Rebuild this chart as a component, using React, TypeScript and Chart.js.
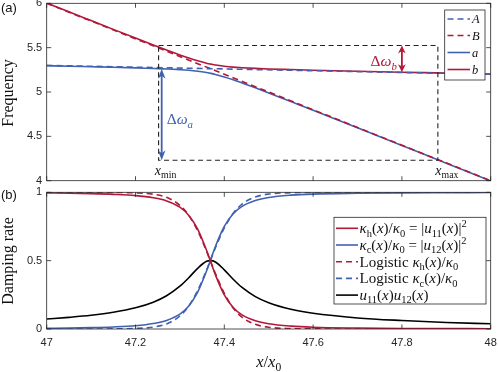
import React, { useEffect, useRef } from 'react';
import { Chart, registerables } from 'chart.js';
Chart.register(...registerables);

// ---------- data ----------
const xGrid = [47, 47.05, 47.1, 47.15, 47.2, 47.24, 47.27, 47.3, 47.32, 47.34, 47.36, 47.37, 47.38, 47.4, 47.42, 47.44, 47.47, 47.5, 47.55, 47.6, 47.7, 47.8, 47.9, 48];
const freqA_x = [47, 48];
const freqA = [5.3, 5.2];
const freqB = [6.0, 4.0];
const freqLowA = [5.296, 5.291, 5.285, 5.279, 5.272, 5.265, 5.26, 5.252, 5.245, 5.234, 5.219, 5.21, 5.198, 5.17, 5.138, 5.102, 5.047, 4.99, 4.892, 4.794, 4.596, 4.397, 4.197, 3.998];
const freqHighB = [6.004, 5.904, 5.805, 5.706, 5.608, 5.531, 5.474, 5.418, 5.383, 5.352, 5.325, 5.314, 5.304, 5.29, 5.28, 5.274, 5.266, 5.26, 5.253, 5.246, 5.234, 5.223, 5.213, 5.202];
const kappaH = [0.995, 0.993, 0.99, 0.985, 0.976, 0.96, 0.937, 0.891, 0.831, 0.731, 0.576, 0.486, 0.396, 0.25, 0.157, 0.103, 0.06, 0.038, 0.021, 0.013, 0.007, 0.004, 0.003, 0.002];
const kappaC = [0.005, 0.007, 0.01, 0.015, 0.024, 0.04, 0.063, 0.109, 0.169, 0.269, 0.424, 0.514, 0.604, 0.75, 0.843, 0.897, 0.94, 0.962, 0.979, 0.987, 0.993, 0.996, 0.997, 0.998];
const logisticH = [1.0, 1.0, 1.0, 0.999, 0.996, 0.986, 0.963, 0.905, 0.832, 0.719, 0.569, 0.487, 0.406, 0.261, 0.154, 0.086, 0.034, 0.013, 0.003, 0.001, 0.0, 0.0, 0.0, 0.0];
const logisticC = [0.0, 0.0, 0.0, 0.001, 0.004, 0.014, 0.037, 0.095, 0.168, 0.281, 0.431, 0.513, 0.594, 0.739, 0.846, 0.914, 0.966, 0.987, 0.997, 0.999, 1.0, 1.0, 1.0, 1.0];
const u11u12 = [0.073, 0.085, 0.1, 0.122, 0.155, 0.196, 0.243, 0.313, 0.375, 0.444, 0.495, 0.5, 0.49, 0.433, 0.364, 0.304, 0.237, 0.192, 0.144, 0.115, 0.081, 0.062, 0.048, 0.038];

const xTicks = [47, 47.2, 47.4, 47.6, 47.8, 48];
const yTicksTop = [4, 4.5, 5, 5.5, 6];
const yTicksBottom = [0, 0.5, 1];

const boxX = [47.252, 47.881];
const boxY = [4.23, 5.525];
const arrowA = { x: 47.259, top: 5.262, bottom: 4.23 };
const arrowB = { x: 47.8, top: 5.525, bottom: 5.224 };

// ---------- styles ----------
const RED = 'rgb(178,24,58)';
const BLUE = 'rgb(64,96,176)';
const DARK = '#262626';
const SERIF = '"Liberation Serif", "Times New Roman", serif';
const SANS = '"Liberation Sans", Arial, sans-serif';
const DASH = [6, 4];

type Seg = { t: string; i?: boolean; s?: 'sub' | 'sup' };

function segFont(seg: Seg, size: number) {
  const sz = seg.s ? size * 0.7 : size;
  return `${seg.i ? 'italic ' : ''}${sz}px ${SERIF}`;
}
function richWidth(ctx: CanvasRenderingContext2D, segs: Seg[], size: number) {
  let w = 0;
  for (const s of segs) {
    ctx.font = segFont(s, size);
    w += ctx.measureText(s.t).width;
  }
  return w;
}
function drawRich(ctx: CanvasRenderingContext2D, x: number, yMid: number, segs: Seg[], size: number, color: string, align: 'left' | 'center' | 'right' = 'left') {
  const w = richWidth(ctx, segs, size);
  let cx = align === 'left' ? x : align === 'center' ? x - w / 2 : x - w;
  const base = yMid + size * 0.33;
  ctx.save();
  ctx.fillStyle = color;
  ctx.textBaseline = 'alphabetic';
  ctx.textAlign = 'left';
  for (const s of segs) {
    ctx.font = segFont(s, size);
    const dy = s.s === 'sub' ? size * 0.22 : s.s === 'sup' ? -size * 0.4 : 0;
    ctx.fillText(s.t, cx, base + dy);
    cx += ctx.measureText(s.t).width;
  }
  ctx.restore();
}

function drawFrame(chart: any) {
  const ctx = chart.ctx as CanvasRenderingContext2D;
  const ca = chart.chartArea;
  const xs = chart.scales.x;
  const ys = chart.scales.y;
  const tl = 4.5;
  ctx.save();
  ctx.strokeStyle = DARK;
  ctx.lineWidth = 0.8;
  ctx.setLineDash([]);
  ctx.strokeRect(ca.left, ca.top, ca.right - ca.left, ca.bottom - ca.top);
  ctx.beginPath();
  for (const t of xs.ticks) {
    const px = xs.getPixelForValue(t.value);
    ctx.moveTo(px, ca.bottom); ctx.lineTo(px, ca.bottom - tl);
    ctx.moveTo(px, ca.top); ctx.lineTo(px, ca.top + tl);
  }
  for (const t of ys.ticks) {
    const py = ys.getPixelForValue(t.value);
    ctx.moveTo(ca.left, py); ctx.lineTo(ca.left + tl, py);
    ctx.moveTo(ca.right, py); ctx.lineTo(ca.right - tl, py);
  }
  ctx.stroke();
  ctx.restore();
}

function drawArrow(ctx: CanvasRenderingContext2D, x: number, yTop: number, yBot: number, color: string, head: number, hw: number) {
  ctx.save();
  ctx.strokeStyle = color;
  ctx.fillStyle = color;
  ctx.lineWidth = 1.8;
  ctx.setLineDash([]);
  ctx.beginPath();
  ctx.moveTo(x, yTop + head * 0.6);
  ctx.lineTo(x, yBot - head * 0.6);
  ctx.stroke();
  ctx.beginPath();
  ctx.moveTo(x, yTop);
  ctx.lineTo(x - hw, yTop + head);
  ctx.lineTo(x, yTop + head * 0.7);
  ctx.lineTo(x + hw, yTop + head);
  ctx.closePath();
  ctx.fill();
  ctx.beginPath();
  ctx.moveTo(x, yBot);
  ctx.lineTo(x - hw, yBot - head);
  ctx.lineTo(x, yBot - head * 0.7);
  ctx.lineTo(x + hw, yBot - head);
  ctx.closePath();
  ctx.fill();
  ctx.restore();
}

function drawLegend(chart: any, box: { l: number; t: number; r: number; b: number }, rows: number[], lineX: [number, number], textX: number, labels: Seg[][], size: number) {
  const ctx = chart.ctx as CanvasRenderingContext2D;
  ctx.save();
  ctx.fillStyle = '#fff';
  ctx.fillRect(box.l, box.t, box.r - box.l, box.b - box.t);
  ctx.strokeStyle = DARK;
  ctx.lineWidth = 0.8;
  ctx.setLineDash([]);
  ctx.strokeRect(box.l, box.t, box.r - box.l, box.b - box.t);
  chart.data.datasets.forEach((ds: any, i: number) => {
    const y = rows[i];
    ctx.strokeStyle = ds.borderColor;
    ctx.lineWidth = ds.borderWidth;
    ctx.setLineDash(ds.borderDash || []);
    ctx.beginPath();
    ctx.moveTo(lineX[0], y);
    ctx.lineTo(lineX[1], y);
    ctx.stroke();
    drawRich(ctx, textX, y, labels[i], size, '#111', 'left');
  });
  ctx.restore();
}

const topPlugin = {
  id: 'topDecor',
  afterDraw(chart: any) {
    const ctx = chart.ctx as CanvasRenderingContext2D;
    const xs = chart.scales.x;
    const ys = chart.scales.y;
    drawFrame(chart);
    const x0 = xs.getPixelForValue(boxX[0]);
    const x1 = xs.getPixelForValue(boxX[1]);
    const y0 = ys.getPixelForValue(boxY[0]);
    const y1 = ys.getPixelForValue(boxY[1]);
    ctx.save();
    ctx.strokeStyle = '#222';
    ctx.lineWidth = 1.1;
    ctx.setLineDash([5, 3.5]);
    ctx.strokeRect(x0, y1, x1 - x0, y0 - y1);
    ctx.restore();
    const ax = xs.getPixelForValue(arrowA.x);
    drawArrow(ctx, ax, ys.getPixelForValue(arrowA.top), ys.getPixelForValue(arrowA.bottom), BLUE, 10, 3.8);
    const bx = xs.getPixelForValue(arrowB.x);
    drawArrow(ctx, bx, ys.getPixelForValue(arrowB.top), ys.getPixelForValue(arrowB.bottom), RED, 8, 3.8);
    drawRich(ctx, ax + 5, 119, [{ t: 'Δ' }, { t: 'ω', i: true }, { t: 'a', i: true, s: 'sub' }], 15.5, BLUE, 'left');
    drawRich(ctx, bx - 5, 61, [{ t: 'Δ' }, { t: 'ω', i: true }, { t: 'b', i: true, s: 'sub' }], 15.5, RED, 'right');
    drawRich(ctx, x0 + 7, 170, [{ t: 'x', i: true }, { t: 'min', s: 'sub' }], 14, '#111', 'center');
    drawRich(ctx, x1 + 9, 170, [{ t: 'x', i: true }, { t: 'max', s: 'sub' }], 14, '#111', 'center');
    drawLegend(chart, { l: 444.7, t: 10, r: 485, b: 80 }, [19, 35.5, 52.5, 69.5], [447.5, 470], 472,
      [[{ t: 'A', i: true }], [{ t: 'B', i: true }], [{ t: 'a', i: true }], [{ t: 'b', i: true }]], 12.5);
    ctx.save();
    ctx.fillStyle = '#111';
    ctx.font = `13px ${SANS}`;
    ctx.textBaseline = 'middle';
    ctx.textAlign = 'left';
    ctx.fillText('(a)', 1, 8);
    ctx.translate(9, 93);
    ctx.rotate(-Math.PI / 2);
    ctx.font = `16px ${SERIF}`;
    ctx.textAlign = 'center';
    ctx.fillText('Frequency', 0, 0);
    ctx.restore();
  },
};

const bottomPlugin = {
  id: 'bottomDecor',
  afterDraw(chart: any) {
    const ctx = chart.ctx as CanvasRenderingContext2D;
    const ca = chart.chartArea;
    drawFrame(chart);
    const rows = [43.3, 60, 76.7, 93.4, 110.1];
    drawLegend(chart, { l: 334, t: 32.3, r: 486, b: 119 }, rows, [336, 358], 359.5,
      [
        [{ t: 'κ', i: true }, { t: 'h', s: 'sub' }, { t: '(' }, { t: 'x', i: true }, { t: ')/' }, { t: 'κ', i: true }, { t: '0', s: 'sub' }, { t: ' = |' }, { t: 'u', i: true }, { t: '11', s: 'sub' }, { t: '(' }, { t: 'x', i: true }, { t: ')|' }, { t: '2', s: 'sup' }],
        [{ t: 'κ', i: true }, { t: 'c', s: 'sub' }, { t: '(' }, { t: 'x', i: true }, { t: ')/' }, { t: 'κ', i: true }, { t: '0', s: 'sub' }, { t: ' = |' }, { t: 'u', i: true }, { t: '12', s: 'sub' }, { t: '(' }, { t: 'x', i: true }, { t: ')|' }, { t: '2', s: 'sup' }],
        [{ t: 'Logistic ' }, { t: 'κ', i: true }, { t: 'h', s: 'sub' }, { t: '(' }, { t: 'x', i: true }, { t: ')/' }, { t: 'κ', i: true }, { t: '0', s: 'sub' }],
        [{ t: 'Logistic ' }, { t: 'κ', i: true }, { t: 'c', s: 'sub' }, { t: '(' }, { t: 'x', i: true }, { t: ')/' }, { t: 'κ', i: true }, { t: '0', s: 'sub' }],
        [{ t: 'u', i: true }, { t: '11', s: 'sub' }, { t: '(' }, { t: 'x', i: true }, { t: ')' }, { t: 'u', i: true }, { t: '12', s: 'sub' }, { t: '(' }, { t: 'x', i: true }, { t: ')' }],
      ], 15);
    ctx.save();
    ctx.fillStyle = '#111';
    ctx.font = `13px ${SANS}`;
    ctx.textBaseline = 'middle';
    ctx.textAlign = 'left';
    ctx.fillText('(b)', 1, 10.5);
    ctx.translate(9, 76);
    ctx.rotate(-Math.PI / 2);
    ctx.font = `16px ${SERIF}`;
    ctx.textAlign = 'center';
    ctx.fillText('Damping rate', 0, 0);
    ctx.restore();
    drawRich(ctx, (ca.left + ca.right) / 2, 177, [{ t: 'x', i: true }, { t: '/' }, { t: 'x', i: true }, { t: '0', s: 'sub' }], 16.5, '#111', 'center');
  },
};

function pts(xv: number[], yv: number[]) {
  return xv.map((x, i) => ({ x, y: yv[i] }));
}

function line(label: string, data: any[], color: string, dashed: boolean) {
  return {
    label,
    data,
    borderColor: color,
    backgroundColor: color,
    borderWidth: 1.6,
    borderDash: dashed ? DASH : [],
    pointRadius: 0,
    fill: false,
    cubicInterpolationMode: 'monotone' as const,
  };
}

function scalesFor(yTicks: number[], yMin: number, yMax: number, showX: boolean, xHeight: number) {
  return {
    x: {
      type: 'linear' as const,
      min: 47,
      max: 48,
      grid: { display: false, drawTicks: false },
      border: { display: false },
      afterBuildTicks: (s: any) => { s.ticks = xTicks.map((v) => ({ value: v })); },
      afterFit: (s: any) => { s.height = xHeight; s.paddingLeft = 0; s.paddingRight = 0; },
      ticks: {
        display: showX,
        padding: 7,
        maxRotation: 0,
        autoSkip: false,
        color: DARK,
        font: { family: SANS, size: 11 },
        callback: (v: any) => String(v),
      },
    },
    y: {
      type: 'linear' as const,
      min: yMin,
      max: yMax,
      grid: { display: false, drawTicks: false },
      border: { display: false },
      afterBuildTicks: (s: any) => { s.ticks = yTicks.map((v) => ({ value: v })); },
      afterFit: (s: any) => { s.width = 46.7; s.paddingTop = 0; s.paddingBottom = 0; },
      ticks: {
        padding: 4.5,
        autoSkip: false,
        color: DARK,
        font: { family: SANS, size: 11 },
        callback: (v: any) => String(v),
      },
    },
  };
}

export default function App() {
  const topRef = useRef<HTMLCanvasElement>(null);
  const botRef = useRef<HTMLCanvasElement>(null);
  useEffect(() => {
    const c1 = new Chart(topRef.current!, {
      type: 'line',
      data: {
        datasets: [
          line('A', pts(freqA_x, freqA), BLUE, true),
          line('B', pts(freqA_x, freqB), RED, true),
          line('a', pts(xGrid, freqLowA), BLUE, false),
          line('b', pts(xGrid, freqHighB), RED, false),
        ],
      },
      options: {
        responsive: false,
        animation: false,
        devicePixelRatio: 1,
        layout: { padding: { left: 0, right: 7.3, top: 3.3, bottom: 4.3 } },
        plugins: { legend: { display: false }, tooltip: { enabled: false } },
        scales: scalesFor(yTicksTop, 4, 6, false, 0),
      },
      plugins: [topPlugin],
    });
    const c2 = new Chart(botRef.current!, {
      type: 'line',
      data: {
        datasets: [
          line('κh(x)/κ0 = |u11(x)|²', pts(xGrid, kappaH), RED, false),
          line('κc(x)/κ0 = |u12(x)|²', pts(xGrid, kappaC), BLUE, false),
          line('Logistic κh(x)/κ0', pts(xGrid, logisticH), RED, true),
          line('Logistic κc(x)/κ0', pts(xGrid, logisticC), BLUE, true),
          line('u11(x)u12(x)', pts(xGrid, u11u12), '#000', false),
        ],
      },
      options: {
        responsive: false,
        animation: false,
        devicePixelRatio: 1,
        layout: { padding: { left: 0, right: 7.3, top: 7.3, bottom: 0 } },
        plugins: { legend: { display: false }, tooltip: { enabled: false } },
        scales: scalesFor(yTicksBottom, 0, 1, true, 43),
      },
      plugins: [bottomPlugin],
    });
    return () => {
      c1.destroy();
      c2.destroy();
    };
  }, []);
  return (
    <div style={{ position: 'absolute', left: 0, top: 0, width: 498, height: 372, background: '#fff' }}>
      <canvas ref={topRef} width={498} height={185} style={{ position: 'absolute', left: 0, top: 0, width: 498, height: 185 }} />
      <canvas ref={botRef} width={498} height={187} style={{ position: 'absolute', left: 0, top: 185, width: 498, height: 187 }} />
    </div>
  );
}
